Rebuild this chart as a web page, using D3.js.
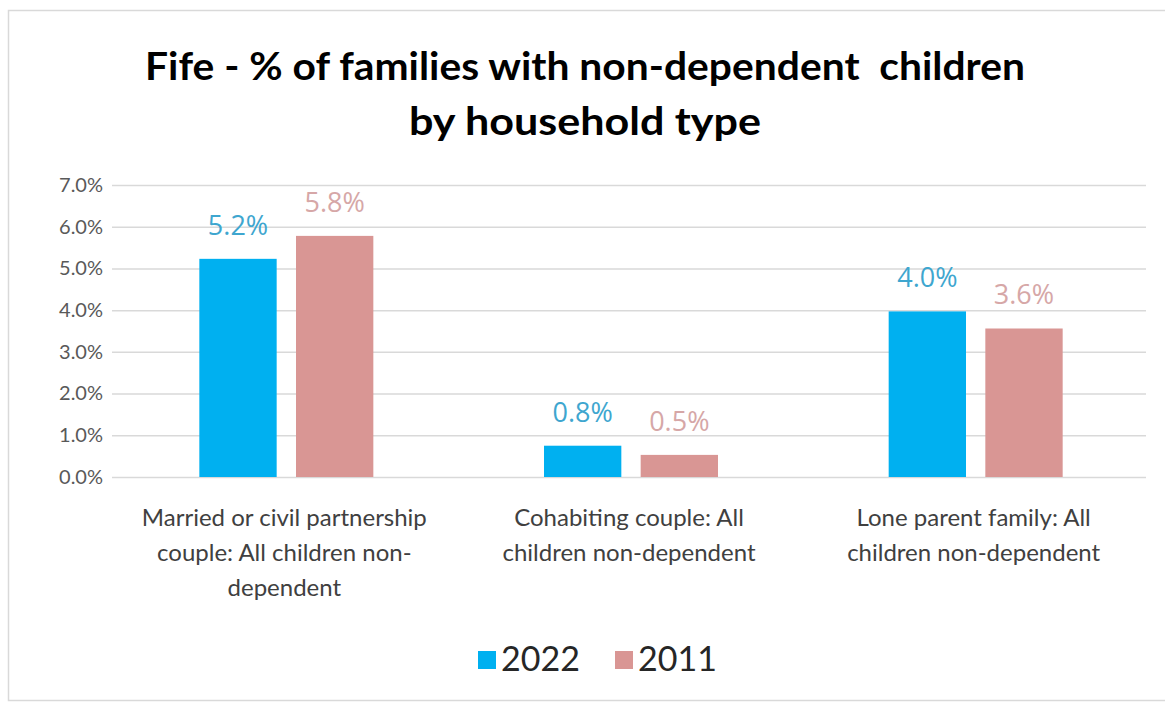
<!DOCTYPE html>
<html>
<head>
<meta charset="utf-8">
<script src="https://cdn.jsdelivr.net/npm/d3@7"></script>
<style>
  html, body { margin: 0; padding: 0; background: #fff; }
  svg { display: block; }
</style>
</head>
<body>
<svg id="chart" width="1165" height="706"></svg>
<script>
// ---- data ----
const categories = [
  "Married or civil partnership couple: All children non-dependent",
  "Cohabiting couple: All children non-dependent",
  "Lone parent family: All children non-dependent"
];
const categoryLines = [
  ["Married or civil partnership", "couple: All children non-", "dependent"],
  ["Cohabiting couple: All", "children non-dependent"],
  ["Lone parent family: All", "children non-dependent"]
];
const seriesNames = ["2022", "2011"];
const values2022 = [5.23, 0.75, 3.97];
const values2011 = [5.78, 0.53, 3.56];
const yTicks = [0, 1, 2, 3, 4, 5, 6, 7];
const titleLines = ["Fife - % of families with non-dependent  children", "by household type"];

// ---- styles ----
const colors = { "2022": "#00b0f0", "2011": "#d99694" };
const labelColors = { "2022": "#3ea6cf", "2011": "#d6a7a7" };
const W = 1165, H = 706;
const plot = { left: 112, right: 1146, top: 185, bottom: 477 };

const svg = d3.select("#chart");

// border
svg.append("rect")
  .attr("x", 8.5).attr("y", 10.5)
  .attr("width", W + 10).attr("height", 690)
  .attr("fill", "#fff").attr("stroke", "#d9d9d9").attr("stroke-width", 1.5);

// title
svg.append("g").selectAll("text").data(titleLines).join("text")
  .attr("x", 585)
  .attr("y", (d, i) => 80 + i * 55)
  .attr("text-anchor", "middle")
  .attr("font-family", "Lato, 'Open Sans', sans-serif")
  .attr("font-weight", "bold")
  .attr("font-size", 39)
  .attr("fill", "#000")
  .attr("textLength", (d, i) => i === 0 ? 880 : 352)
  .attr("lengthAdjust", "spacingAndGlyphs")
  .style("white-space", "pre")
  .text(d => d);

// scales
const x0 = d3.scaleBand().domain(categories).range([plot.left, plot.right]).paddingInner(0).paddingOuter(0);
const x1 = d3.scaleBand().domain(seriesNames).range([-85, 89]).paddingInner(0.2);
const y = d3.scaleLinear().domain([0, 7]).range([plot.bottom, plot.top]);

// gridlines + y axis
const yAxis = d3.axisLeft(y)
  .tickValues(yTicks)
  .tickSize(-(plot.right - plot.left))
  .tickPadding(9)
  .tickFormat(d => d.toFixed(1) + "%");
const yg = svg.append("g").attr("transform", `translate(${plot.left},0)`).call(yAxis);
yg.select(".domain").remove();
yg.selectAll(".tick line").attr("stroke", "#d9d9d9").attr("stroke-width", 1.5);
yg.selectAll(".tick text")
  .attr("font-family", "Lato, 'Open Sans', sans-serif")
  .attr("font-size", 20)
  .attr("fill", "#595959");

// bars
const data = categories.map((c, i) => ({ cat: c, vals: [
  { s: "2022", v: values2022[i] },
  { s: "2011", v: values2011[i] }
]}));

const groups = svg.append("g").selectAll("g").data(data).join("g")
  .attr("transform", d => `translate(${x0(d.cat) + x0.bandwidth() / 2},0)`);

groups.selectAll("rect").data(d => d.vals).join("rect")
  .attr("x", d => x1(d.s))
  .attr("width", x1.bandwidth())
  .attr("y", d => y(d.v))
  .attr("height", d => y(0) - y(d.v))
  .attr("fill", d => colors[d.s]);

groups.selectAll("text.lbl").data(d => d.vals).join("text")
  .attr("class", "lbl")
  .attr("x", d => x1(d.s) + x1.bandwidth() / 2)
  .attr("y", d => y(d.v) - 24)
  .attr("text-anchor", "middle")
  .attr("font-family", "'Open Sans', sans-serif")
  .attr("font-size", 27)
  .attr("fill", d => labelColors[d.s])
  .text(d => d3.format(".1f")(d.v) + "%");

// category labels
const xl = svg.append("g").selectAll("text").data(categories).join("text")
  .attr("x", d => x0(d) + x0.bandwidth() / 2)
  .attr("y", 526)
  .attr("text-anchor", "middle")
  .attr("font-family", "Lato, 'Open Sans', sans-serif")
  .attr("font-size", 24)
  .attr("fill", "#404040");
xl.selectAll("tspan").data((d, i) => categoryLines[i]).join("tspan")
  .attr("x", function() { return d3.select(this.parentNode).attr("x"); })
  .attr("dy", (d, i) => i === 0 ? 0 : 35)
  .text(d => d);

// legend
const legend = svg.append("g");
const legendItems = [{ s: "2022", x: 478 }, { s: "2011", x: 615 }];
legendItems.forEach(it => {
  legend.append("rect")
    .attr("x", it.x).attr("y", 651).attr("width", 18).attr("height", 18)
    .attr("fill", colors[it.s]);
  legend.append("text")
    .attr("x", it.x + 23).attr("y", 671)
    .attr("font-family", "Lato, 'Open Sans', sans-serif")
    .attr("font-size", 34)
    .attr("fill", "#262626")
    .text(it.s);
});
</script>
</body>
</html>
